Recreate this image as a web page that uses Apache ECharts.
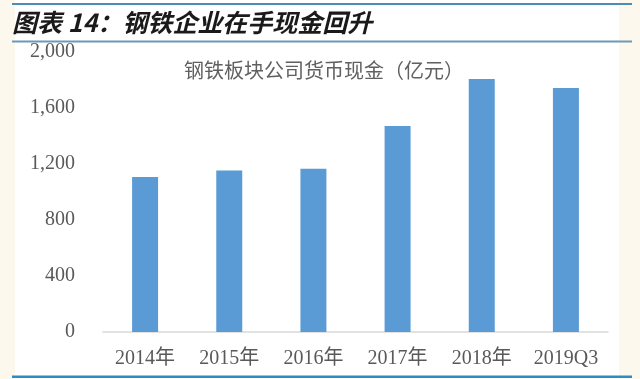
<!DOCTYPE html>
<html>
<head>
<meta charset="utf-8">
<script src="https://cdn.jsdelivr.net/npm/echarts@6/dist/echarts.min.js"></script>
<style>
html,body{margin:0;padding:0;background:#fdf8ee;}
#c{width:640px;height:379px;}
</style>
</head>
<body>
<div id="c"></div>
<script>
var categories = ['2014年', '2015年', '2016年', '2017年', '2018年', '2019Q3'];
var cashValues = [1107, 1154, 1166, 1471, 1808, 1743];
var yTicks = [0, 400, 800, 1200, 1600, 2000];
var headerText = '图表 14：钢铁企业在手现金回升';
var chartTitle = '钢铁板块公司货币现金（亿元）';

var chart = echarts.init(document.getElementById('c'));
var serifNum = '"Liberation Serif", "Noto Sans CJK SC", serif';
chart.setOption({
  animation: false,
  backgroundColor: '#fdf8ee',
  graphic: [
    { type: 'rect', z: -10, shape: { x: 15, y: 0, width: 604, height: 379 }, style: { fill: '#ffffff' } },
    { type: 'rect', shape: { x: 12, y: 3, width: 620, height: 2 }, style: { fill: '#4a8db5' } },
    { type: 'rect', shape: { x: 12, y: 40.5, width: 620, height: 2 }, style: { fill: '#6f98b3' } },
    { type: 'rect', shape: { x: 12, y: 375.5, width: 620, height: 2.5 }, style: { fill: '#2e8cc4' } },
    { type: 'text', x: 12, y: 22, style: { text: headerText, fill: '#1a1a1a', font: 'italic bold 25px "Noto Sans CJK SC"', verticalAlign: 'middle', align: 'left' } }
  ],
  title: {
    text: chartTitle,
    left: 179,
    top: 55,
    textStyle: { fontFamily: 'Noto Sans CJK SC', fontSize: 20, fontWeight: 'normal', color: '#606060' }
  },
  grid: { left: 103, right: 32, top: 52, bottom: 47, containLabel: false },
  xAxis: {
    type: 'category',
    data: categories,
    axisLine: { lineStyle: { color: '#d9d9d9', width: 1.5 } },
    axisTick: { show: false },
    axisLabel: { color: '#595959', fontSize: 20, fontFamily: serifNum, margin: 17 }
  },
  yAxis: {
    type: 'value',
    min: yTicks[0],
    max: yTicks[yTicks.length - 1],
    interval: yTicks[1] - yTicks[0],
    axisLine: { show: false },
    axisTick: { show: false },
    splitLine: { show: false },
    axisLabel: {
      color: '#595959', fontSize: 20, fontFamily: serifNum, margin: 28,
      formatter: function (v) { return v.toLocaleString('en-US'); }
    }
  },
  series: [{
    type: 'bar',
    data: cashValues,
    barWidth: 26,
    itemStyle: { color: '#5b9bd5' }
  }]
});
</script>
</body>
</html>
